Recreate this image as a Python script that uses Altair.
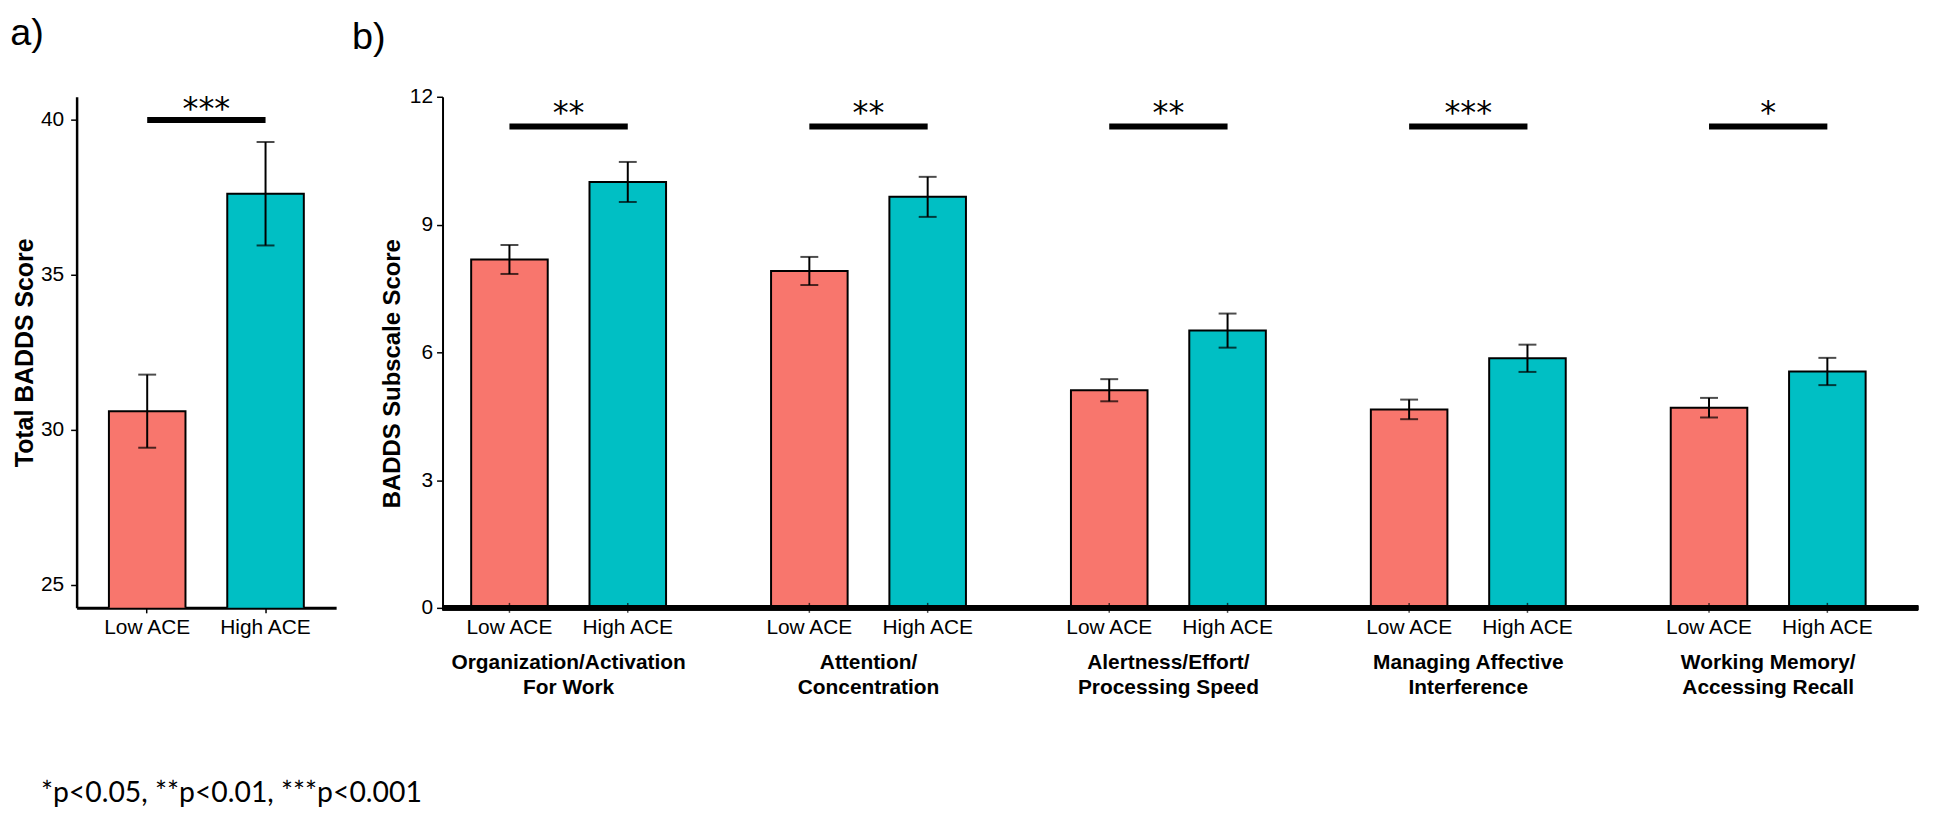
import altair as alt
import pandas as pd

# ---------------- data ----------------
ace_levels = ["Low ACE", "High ACE"]
ace_colors = ["#F8766D", "#00BFC4"]

total_mean = [30.60, 37.62]
total_se = [1.18, 1.67]
total_sig = "***"
total_sig_y = 40.0

subscales = [
    "Organization/Activation\nFor Work",
    "Attention/\nConcentration",
    "Alertness/Effort/\nProcessing Speed",
    "Managing Affective\nInterference",
    "Working Memory/\nAccessing Recall",
]
low_mean = [8.18, 7.91, 5.11, 4.66, 4.70]
low_se = [0.34, 0.33, 0.26, 0.23, 0.23]
high_mean = [10.00, 9.65, 6.51, 5.86, 5.55]
high_se = [0.47, 0.47, 0.40, 0.32, 0.32]
sub_sig = ["**", "**", "**", "***", "*"]
sub_sig_y = 11.3

footnote = "*p<0.05, **p<0.01, ***p<0.001"

# ---------------- tables ----------------
a_df = pd.DataFrame({
    "ace": ace_levels,
    "mean": total_mean,
    "lo": [m - s for m, s in zip(total_mean, total_se)],
    "hi": [m + s for m, s in zip(total_mean, total_se)],
})
a_sig = pd.DataFrame({"ace": ace_levels, "y": [total_sig_y] * 2})
a_star = pd.DataFrame({"txt": [total_sig], "y": [total_sig_y]})

rows = []
for g, lm, ls, hm, hs in zip(subscales, low_mean, low_se, high_mean, high_se):
    rows.append({"group": g, "ace": "Low ACE", "mean": lm, "lo": lm - ls, "hi": lm + ls})
    rows.append({"group": g, "ace": "High ACE", "mean": hm, "lo": hm - hs, "hi": hm + hs})
b_df = pd.DataFrame(rows)
b_sig = pd.DataFrame([{"group": g, "ace": a, "y": sub_sig_y} for g in subscales for a in ace_levels])
b_star = pd.DataFrame({"group": subscales, "txt": sub_sig, "y": [sub_sig_y] * 5})

FONT = "Liberation Sans"
color = alt.Color("ace:N", scale=alt.Scale(domain=ace_levels, range=ace_colors), legend=None)

# ---------------- panel a ----------------
ax = alt.X("ace:N", sort=ace_levels,
           scale=alt.Scale(paddingInner=0.353, paddingOuter=0.273),
           axis=alt.Axis(title=None, labelAngle=0, labelFontSize=21, labelColor="black",
                         tickSize=5, tickColor="black", tickWidth=1.5,
                         domainColor="black", domainWidth=3, labelPadding=4))
ay_scale = alt.Scale(domain=[24.25, 40.75], nice=False, zero=False)
ay_axis = alt.Axis(values=[25, 30, 35, 40], title="Total BADDS Score", titleFontSize=25,
                   titleFontWeight="bold", titleColor="black", labelFontSize=21, labelColor="black",
                   tickSize=6, tickColor="black", tickWidth=1.5, labelPadding=7, titlePadding=3,
                   domainColor="black", domainWidth=2.5, grid=False)

a_base = alt.Chart(a_df)
a_bars = a_base.mark_bar(stroke="black", strokeWidth=2, clip=True).encode(
    x=ax, y=alt.Y("mean:Q", scale=ay_scale, axis=ay_axis), color=color)
a_err = a_base.mark_rule(color="black", strokeWidth=2).encode(
    x=alt.X("ace:N", sort=ace_levels), y="lo:Q", y2="hi:Q")
a_cap_lo = a_base.mark_tick(color="black", size=18, thickness=2).encode(
    x=alt.X("ace:N", sort=ace_levels), y="lo:Q")
a_cap_hi = a_base.mark_tick(color="black", size=18, thickness=2).encode(
    x=alt.X("ace:N", sort=ace_levels), y="hi:Q")
a_line = alt.Chart(a_sig).mark_line(color="black", strokeWidth=6, strokeCap="butt").encode(
    x=alt.X("ace:N", sort=ace_levels), y="y:Q")
a_text = alt.Chart(a_star).mark_text(font="DejaVu Sans", fontSize=32, dy=-11, baseline="middle",
                                     color="black").encode(y="y:Q", text="txt:N")

panel_a = alt.layer(a_bars, a_err, a_cap_lo, a_cap_hi, a_line, a_text).properties(
    width=261, height=514,
    title=alt.TitleParams("a)", anchor="start", fontSize=38, font=FONT, fontWeight="normal",
                          color="black", dx=-2.5, offset=40))

# ---------------- panel b ----------------
bx = alt.X("group:N", sort=subscales,
           scale=alt.Scale(range=[-24, 1484], paddingInner=0, paddingOuter=0),
           axis=alt.Axis(title=None, labelAngle=0, labelFontSize=21, labelFontWeight="bold",
                         labelColor="black", labelPadding=44, labelLineHeight=25, labelLimit=400,
                         labelExpr="split(datum.label, '\\n')", domain=False, ticks=False))
bxo = alt.XOffset("ace:N", sort=ace_levels, scale=alt.Scale(paddingInner=0.353, paddingOuter=0.4437))
by_scale = alt.Scale(domain=[0, 12], nice=False)
by_axis = alt.Axis(values=[0, 3, 6, 9, 12], title="BADDS Subscale Score", titleFontSize=24,
                   titleFontWeight="bold", titleColor="black", labelFontSize=21, labelColor="black",
                   tickSize=6, tickColor="black", tickWidth=1.5, labelPadding=4, titlePadding=5,
                   titleY=278, domainColor="black", domainWidth=2, grid=False)

b_base = alt.Chart(b_df)
b_bars = b_base.mark_bar(stroke="black", strokeWidth=2).encode(
    x=bx, xOffset=bxo, y=alt.Y("mean:Q", scale=by_scale, axis=by_axis), color=color)
b_err = b_base.mark_rule(color="black", strokeWidth=2).encode(
    x=alt.X("group:N", sort=subscales), xOffset=bxo, y="lo:Q", y2="hi:Q")
b_cap_lo = b_base.mark_tick(color="black", size=18, thickness=2).encode(
    x=alt.X("group:N", sort=subscales), xOffset=bxo, y="lo:Q")
b_cap_hi = b_base.mark_tick(color="black", size=18, thickness=2).encode(
    x=alt.X("group:N", sort=subscales), xOffset=bxo, y="hi:Q")
b_xtick = b_base.mark_tick(color="black", size=10, thickness=1.5, orient="vertical").encode(
    x=alt.X("group:N", sort=subscales), xOffset=bxo, y=alt.datum(0))
b_xlab = b_base.mark_text(fontSize=21, color="black", baseline="middle", dy=20).encode(
    x=alt.X("group:N", sort=subscales), xOffset=bxo, y=alt.datum(0), text="ace:N")
b_axisline = b_base.mark_rule(color="black", strokeWidth=5).encode(y=alt.datum(0))
b_line = alt.Chart(b_sig).mark_line(color="black", strokeWidth=6, strokeCap="butt").encode(
    x=alt.X("group:N", sort=subscales), xOffset=bxo, y="y:Q", detail="group:N")
b_text = alt.Chart(b_star).mark_text(font="DejaVu Sans", fontSize=32, dy=-14, baseline="middle",
                                     color="black").encode(
    x=alt.X("group:N", sort=subscales), y="y:Q", text="txt:N")

panel_b = alt.layer(b_bars, b_err, b_cap_lo, b_cap_hi, b_xtick, b_axisline, b_xlab,
                    b_line, b_text).properties(
    width=1484, height=514,
    title=alt.TitleParams("b)", anchor="start", fontSize=38, font=FONT, fontWeight="normal",
                          color="black", dx=-28.6, offset=29))

chart = alt.hconcat(panel_a, panel_b, spacing=16).properties(
    padding={"left": 2, "top": 5, "right": 0, "bottom": 0},
    title=alt.TitleParams(footnote, orient="bottom", anchor="start", fontSize=28.5, font="Lato",
                          fontWeight="normal", color="black", dx=31, offset=82),
).configure(font=FONT).configure_view(stroke=None)

chart.save("out.html", embed_options={"renderer": "svg", "actions": False})
